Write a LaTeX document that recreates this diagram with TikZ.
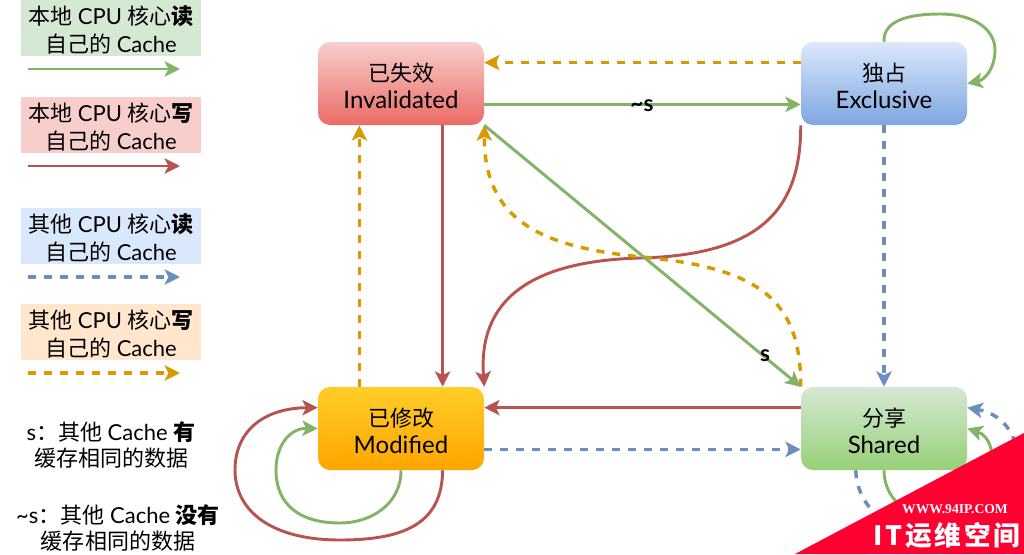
\documentclass[tikz,border=0pt]{standalone}
\usepackage{fontspec}
\setmainfont{Lato}
\newfontfamily\cjk{Noto Sans CJK SC}
\newfontfamily\wmserif{Liberation Serif}
\usetikzlibrary{arrows.meta,calc}
\definecolor{gl}{HTML}{82B366}\definecolor{rl}{HTML}{B85450}
\definecolor{bl}{HTML}{6C8EBF}\definecolor{ol}{HTML}{D79B00}
\newcommand{\zh}[1]{{\cjk #1}}
\newcommand{\zb}[1]{{\cjk\bfseries #1}}
\newcommand{\lat}[1]{{\fontsize{18}{20.25}\selectfont #1}}
\newcommand{\ls}{\rule{0pt}{17.5pt}}
\tikzset{
  flow/.style={line width=2.2pt,-{Stealth[length=11.5pt,width=11.5pt,inset=2.8pt]}},
  dsh/.style={flow,line width=2.6pt,dash pattern=on 6pt off 6pt},
  state/.style={rounded corners=9pt,minimum width=124.5pt,minimum height=62.25pt,inner sep=0pt,align=center,
    font=\fontsize{16.5}{20.25}\selectfont},
  legend/.style={minimum width=135pt,minimum height=41.5pt,inner sep=0pt,align=center,
    font=\fontsize{16.5}{21}\selectfont},
  note/.style={inner sep=0pt,align=center,font=\fontsize{16.5}{19.5}\selectfont},
  lab/.style={inner sep=0pt,font=\fontsize{17}{18}\selectfont\bfseries}
}
\begin{document}
\begin{tikzpicture}[x=0.75pt,y=-0.75pt]
\useasboundingbox (0,0) rectangle (1024,554);
% legend
\node[legend,fill={rgb,255:red,213;green,232;blue,212}] (l1) at (111,28) {\ls\zh{本地} CPU \zh{核心}\zb{读}\\\zh{自己的} Cache};
\node[legend,fill={rgb,255:red,248;green,206;blue,204}] (l2) at (111,125) {\ls\zh{本地} CPU \zh{核心}\zb{写}\\\zh{自己的} Cache};
\node[legend,fill={rgb,255:red,218;green,232;blue,252}] (l3) at (111,236) {\ls\zh{其他} CPU \zh{核心}\zb{读}\\\zh{自己的} Cache};
\node[legend,fill={rgb,255:red,255;green,230;blue,204}] (l4) at (111,332) {\ls\zh{其他} CPU \zh{核心}\zb{写}\\\zh{自己的} Cache};
\coordinate (a1) at (28,69);\coordinate (b1) at (180,69);
\coordinate (a2) at (28,166);\coordinate (b2) at (180,166);
\coordinate (a3) at (28,277);\coordinate (b3) at (180,277);
\coordinate (a4) at (28,373);\coordinate (b4) at (180,373);
\draw[flow,gl] (a1)--(b1);
\draw[flow,rl] (a2)--(b2);
\draw[dsh,bl] (a3)--(b3);
\draw[dsh,ol] (a4)--(b4);
\node[note] (n1) at (111,445) {s\zh{：其他} Cache \zb{有}\\\zh{缓存相同的数据}};
\node[note] (n2) at (118,528) {\textasciitilde s\zh{：其他} Cache \zb{没有}\\\zh{缓存相同的数据}};
% states
\node[state,top color={rgb,255:red,248;green,206;blue,204},bottom color={rgb,255:red,234;green,107;blue,102}] (inv) at (401,83.5) {\ls\zh{已失效}\\\lat{Invalidated}};
\node[state,top color={rgb,255:red,218;green,232;blue,252},bottom color={rgb,255:red,126;green,166;blue,224}] (exc) at (884,83.5) {\ls\zh{独占}\\\lat{Exclusive}};
\node[state,top color={rgb,255:red,255;green,205;blue,40},bottom color={rgb,255:red,255;green,165;blue,0}] (mod) at (401,428.5) {\ls\zh{已修改}\\\lat{Modified}};
\node[state,top color={rgb,255:red,213;green,232;blue,212},bottom color={rgb,255:red,151;green,208;blue,119}] (sha) at (884,428.5) {\ls\zh{分享}\\\lat{Shared}};
% anchor helpers
\foreach \n in {inv,exc,mod,sha}{
  \coordinate (\n E1) at ($(\n.north east)!.25!(\n.south east)$);
  \coordinate (\n E3) at ($(\n.north east)!.75!(\n.south east)$);
  \coordinate (\n W1) at ($(\n.north west)!.25!(\n.south west)$);
  \coordinate (\n W3) at ($(\n.north west)!.75!(\n.south west)$);
  \coordinate (\n S1) at ($(\n.south west)!.25!(\n.south east)$);
  \coordinate (\n S3) at ($(\n.south west)!.75!(\n.south east)$);
  \coordinate (\n N1) at ($(\n.north west)!.25!(\n.north east)$);
  \coordinate (\n N3) at ($(\n.north west)!.75!(\n.north east)$);
}
\coordinate (shaSb) at ($(sha.south west)!.33!(sha.south east)$);
% connectors
\draw[dsh,ol] (excW1)--(invE1);
\draw[flow,gl] (invE3)--(excW3);
\draw[flow,gl] (exc.north) .. controls (883,20) and (910,14) .. (940,14) .. controls (975,14) and (995,30) .. (995,50) .. controls (995,68) and (985,80) .. (exc.east);
\draw[dsh,bl] (exc.south)--(sha.north);
\draw[flow,rl] (exc.south west) .. controls (801,210) and (760,255) .. (640,258) .. controls (530,261) and (478,300) .. (mod.north east);
\draw[dsh,ol] (sha.north west) .. controls (801,300) and (760,268) .. (642,257) .. controls (540,247) and (484,220) .. (inv.south east);
\draw[flow,gl] (inv.south east)--(sha.north west);
\draw[flow,rl] (invS3)--(modN3);
\draw[dsh,ol] (modN1)--(invS1);
\draw[flow,rl] (shaW1)--(modE1);
\draw[dsh,bl] (modE3)--(shaW3);
\draw[flow,rl] (modS3) .. controls (442,520) and (410,540) .. (340,540) .. controls (270,540) and (235,510) .. (235,470) .. controls (235,430) and (265,408) .. (modW1);
\draw[flow,gl] (mod.south) .. controls (401,505) and (370,523) .. (340,523) .. controls (300,523) and (276,505) .. (276,470) .. controls (276,445) and (290,428) .. (mod.west);
\draw[flow,gl] (sha.south) .. controls (884,500) and (910,525) .. (960,515) .. controls (995,505) and (1003,440) .. (sha.east);
\draw[dsh,bl] (shaSb) .. controls (858,520) and (910,545) .. (970,530) .. controls (1030,510) and (1035,420) .. (shaE1);
\node[lab] (ls1) at (642,106) {\textasciitilde s};
\node[lab] (ls2) at (765,356) {s};
% watermark
\fill[fill={rgb,255:red,255;green,0;blue,48}] (795,554)--(1024,433)--(1024,554)--cycle;
\node[inner sep=0pt,text=white,font=\fontsize{10.2}{12}\selectfont\bfseries\wmserif] (w1) at (955,509) {WWW.94IP.COM};
\node[inner sep=0pt,text=white,font=\fontsize{20}{22}\selectfont] (w2) at (947,535) {\zb{I\hspace{2pt}T\hspace{2pt}运\hspace{2pt}维\hspace{2pt}空\hspace{2pt}间}};
\end{tikzpicture}
\end{document}
